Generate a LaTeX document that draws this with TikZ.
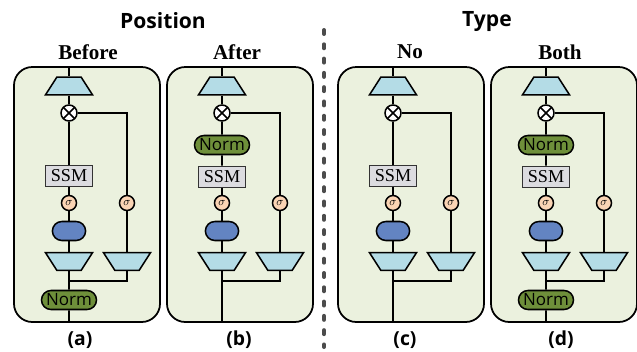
\documentclass[tikz,border=0pt]{standalone}
\usepackage{fontspec}
\setmainfont{Liberation Serif}
\setsansfont{Open Sans}
\usepackage{xcolor}
\usepackage{tikz}
\usetikzlibrary{positioning, arrows.meta, shapes.geometric, shapes.misc, calc}

\definecolor{boxgreen}{HTML}{EBF1DE}
\definecolor{trapblue}{HTML}{B4DCE6}
\definecolor{normgreen}{HTML}{6E8F3A}
\definecolor{pillblue}{HTML}{6384C2}
\definecolor{sigpeach}{HTML}{FAD4B4}
\definecolor{ssmgray}{HTML}{DCDCE0}

\begin{document}
\begin{tikzpicture}[
    x=0.03cm, y=-0.03cm,
    panel/.style={rectangle, draw, line width=1.5pt, rounded corners=0.55cm, fill=boxgreen, minimum width=4.38cm, minimum height=7.65cm},
    up/.style={trapezium, draw, line width=1.3pt, fill=trapblue, trapezium angle=65, trapezium stretches=true, minimum width=1.41cm, minimum height=0.53cm, inner sep=1pt},
    down/.style={up, shape border rotate=180},
    mul/.style={circle, draw, line width=1.3pt, fill=white, minimum size=0.48cm, inner sep=0pt,
        path picture={\draw[line width=1.3pt] (path picture bounding box.north west) -- (path picture bounding box.south east)
            (path picture bounding box.north east) -- (path picture bounding box.south west);}},
    sig/.style={circle, draw, line width=1.3pt, fill=sigpeach, minimum size=0.45cm, inner sep=0pt, font=\normalsize},
    ssm/.style={rectangle, draw=black!80, line width=1.3pt, fill=ssmgray, minimum width=1.41cm, minimum height=0.63cm, inner sep=0pt, font=\fontsize{15.5}{15}\selectfont},
    pill/.style={rounded rectangle, draw, line width=1.3pt, fill=pillblue, minimum width=1.23cm, minimum height=0.57cm},
    norm/.style={rounded rectangle, draw, line width=1.3pt, fill=normgreen, minimum width=1.65cm, minimum height=0.57cm, inner sep=0pt, font=\sffamily\fontsize{14.5}{14}\selectfont},
    head/.style={font=\sffamily\bfseries\fontsize{18}{20}\selectfont},
    title/.style={font=\bfseries\fontsize{18}{20}\selectfont},
    tag/.style={font=\sffamily\bfseries\fontsize{16.5}{18}\selectfont},
    wire/.style={line width=1.5pt},
    sep/.style={line width=3.4pt, draw=black!70, line cap=round, dash pattern=on 3.4pt off 8.8pt},
]
\useasboundingbox (0,0) rectangle (637,351);

\node[head] (h1) at (163,21) {Position};
\node[head] (h2) at (487,21) {Type};
\coordinate (s1) at (324,30); \coordinate (s2) at (324,347);
\draw[sep] (s1) -- (s2);

% (a) norm before
\node[title] (ta) at (88,52) {Before};
\node[panel] (pa) at (87,194.5) {};
\node[up] (a1) at (69,86) {};
\node[mul] (a2) at (69,113) {};
\node[ssm] (a3) at (69,176) {SSM};
\node[sig] (a4) at (69,203) {$\sigma$};
\node[pill] (a5) at (69,231) {};
\node[down] (a6) at (69,261.5) {};
\node[sig] (a7) at (127,203) {$\sigma$};
\node[down] (a8) at (127,261.5) {};
\node[norm] (a9) at (69,300) {Norm};
\coordinate (aj) at (69,281);
\draw[wire] (a1 |- pa.north) -- (a1); \draw[wire] (a1) -- (a2); \draw[wire] (a2) -- (a3); \draw[wire] (a3) -- (a4); \draw[wire] (a4) -- (a5); \draw[wire] (a5) -- (a6); \draw[wire] (a6) -- (a9); \draw[wire] (a9) -- (a9 |- pa.south);
\draw[wire] (a2) -- (a2 -| a7) -- (a7); \draw[wire] (a7) -- (a8); \draw[wire] (a8) |- (aj);
\node[tag] (la) at (80,340) {(a)};

% (b) norm after
\node[title] (tb) at (237,52) {After};
\node[panel] (pb) at (240,194.5) {};
\node[up] (b1) at (222,86) {};
\node[mul] (b2) at (222,113) {};
\node[norm] (b0) at (222,145) {Norm};
\node[ssm] (b3) at (222,177) {SSM};
\node[sig] (b4) at (222,203) {$\sigma$};
\node[pill] (b5) at (222,231) {};
\node[down] (b6) at (222,261.5) {};
\node[sig] (b7) at (280,203) {$\sigma$};
\node[down] (b8) at (280,261.5) {};
\coordinate (bj) at (222,281);
\draw[wire] (b1 |- pb.north) -- (b1); \draw[wire] (b1) -- (b2); \draw[wire] (b2) -- (b0); \draw[wire] (b0) -- (b3); \draw[wire] (b3) -- (b4); \draw[wire] (b4) -- (b5); \draw[wire] (b5) -- (b6); \draw[wire] (b6) -- (b6 |- pb.south);
\draw[wire] (b2) -- (b2 -| b7) -- (b7); \draw[wire] (b7) -- (b8); \draw[wire] (b8) |- (bj);
\node[tag] (lb) at (239,340) {(b)};

% (c) no norm
\node[title] (tc) at (410,52) {No};
\node[panel] (pc) at (411,194.5) {};
\node[up] (c1) at (393,86) {};
\node[mul] (c2) at (393,113) {};
\node[ssm] (c3) at (393,176) {SSM};
\node[sig] (c4) at (393,203) {$\sigma$};
\node[pill] (c5) at (393,231) {};
\node[down] (c6) at (393,261.5) {};
\node[sig] (c7) at (451,203) {$\sigma$};
\node[down] (c8) at (451,261.5) {};
\coordinate (cj) at (393,281);
\draw[wire] (c1 |- pc.north) -- (c1); \draw[wire] (c1) -- (c2); \draw[wire] (c2) -- (c3); \draw[wire] (c3) -- (c4); \draw[wire] (c4) -- (c5); \draw[wire] (c5) -- (c6); \draw[wire] (c6) -- (c6 |- pc.south);
\draw[wire] (c2) -- (c2 -| c7) -- (c7); \draw[wire] (c7) -- (c8); \draw[wire] (c8) |- (cj);
\node[tag] (lc) at (405,340) {(c)};

% (d) both norms
\node[title] (td) at (560,52) {Both};
\node[panel] (pd) at (564,194.5) {};
\node[up] (d1) at (546,86) {};
\node[mul] (d2) at (546,113) {};
\node[norm] (d0) at (546,145) {Norm};
\node[ssm] (d3) at (546,177) {SSM};
\node[sig] (d4) at (546,203) {$\sigma$};
\node[pill] (d5) at (546,231) {};
\node[down] (d6) at (546,261.5) {};
\node[sig] (d7) at (604,203) {$\sigma$};
\node[down] (d8) at (604,261.5) {};
\node[norm] (d9) at (546,300) {Norm};
\coordinate (dj) at (546,281);
\draw[wire] (d1 |- pd.north) -- (d1); \draw[wire] (d1) -- (d2); \draw[wire] (d2) -- (d0); \draw[wire] (d0) -- (d3); \draw[wire] (d3) -- (d4); \draw[wire] (d4) -- (d5); \draw[wire] (d5) -- (d6); \draw[wire] (d6) -- (d9); \draw[wire] (d9) -- (d9 |- pd.south);
\draw[wire] (d2) -- (d2 -| d7) -- (d7); \draw[wire] (d7) -- (d8); \draw[wire] (d8) |- (dj);
\node[tag] (ld) at (561,340) {(d)};
\end{tikzpicture}
\end{document}
